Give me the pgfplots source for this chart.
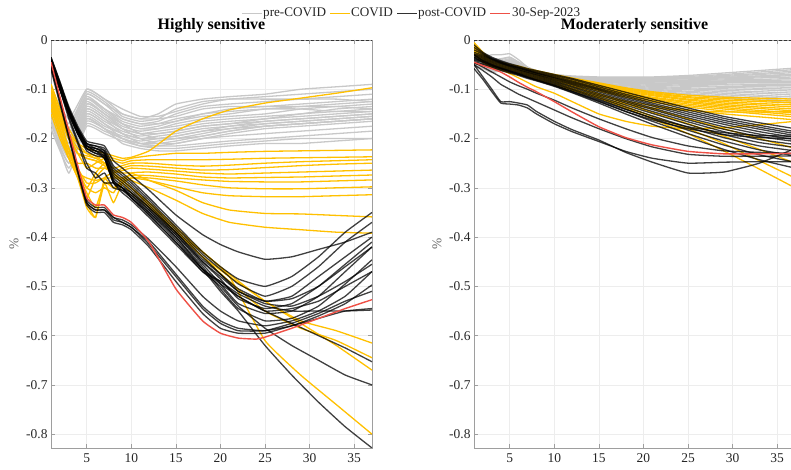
\documentclass[border=0pt]{standalone}
\usepackage{pgfplots}
\usepackage{pgfplotstable}
\pgfplotsset{compat=1.18}
\usepackage{fontspec}
\setmainfont{Liberation Serif}

\definecolor{preg}{RGB}{200,200,200}
\definecolor{covy}{RGB}{255,192,0}
\definecolor{redl}{RGB}{238,80,70}
\definecolor{postk}{RGB}{50,50,50}

% ---------------- LEFT PANEL: Highly sensitive ----------------
\pgfplotstableread{
id c1 c2 c3 c4 c5 c6 c7 c8 c9 c10 c11 c12 c13 c14
x 1 3 5 7 9 11 13 15 18 21 25 29 33 37
g1 -.10 -.16 -.10 -.12 -.15 -.16 -.15 -.13 -.12 -.115 -.11 -.10 -.095 -.09
g2 -.11 -.17 -.105 -.125 -.155 -.165 -.16 -.14 -.125 -.12 -.115 -.11 -.105 -.10
g3 -.12 -.18 -.11 -.13 -.16 -.17 -.165 -.15 -.135 -.13 -.125 -.12 -.115 -.11
g4 -.12 -.19 -.115 -.14 -.165 -.175 -.17 -.16 -.15 -.14 -.135 -.13 -.125 -.12
g5 -.13 -.20 -.12 -.145 -.17 -.18 -.175 -.165 -.155 -.15 -.14 -.135 -.13 -.125
g6 -.13 -.20 -.125 -.15 -.17 -.18 -.18 -.17 -.16 -.155 -.15 -.14 -.135 -.13
g7 -.14 -.21 -.13 -.15 -.175 -.185 -.18 -.175 -.165 -.16 -.155 -.15 -.14 -.135
g8 -.14 -.22 -.135 -.155 -.18 -.19 -.185 -.18 -.17 -.165 -.16 -.15 -.145 -.14
g9 -.15 -.22 -.14 -.16 -.18 -.19 -.19 -.185 -.175 -.17 -.16 -.155 -.15 -.145
g10 -.15 -.23 -.145 -.165 -.185 -.195 -.19 -.185 -.175 -.17 -.165 -.16 -.155 -.15
g11 -.16 -.23 -.15 -.17 -.19 -.20 -.195 -.19 -.18 -.175 -.165 -.16 -.155 -.15
g12 -.16 -.24 -.155 -.175 -.19 -.20 -.20 -.195 -.185 -.175 -.17 -.165 -.16 -.155
g13 -.17 -.24 -.16 -.18 -.195 -.205 -.20 -.195 -.185 -.18 -.17 -.165 -.16 -.155
g14 -.17 -.25 -.165 -.18 -.20 -.21 -.205 -.20 -.19 -.18 -.175 -.17 -.165 -.16
g15 -.18 -.25 -.17 -.185 -.20 -.21 -.21 -.205 -.195 -.185 -.175 -.17 -.165 -.16
g16 -.18 -.26 -.175 -.19 -.205 -.215 -.215 -.21 -.20 -.19 -.18 -.175 -.17 -.165
g17 -.12 -.21 -.12 -.14 -.17 -.19 -.20 -.20 -.195 -.185 -.175 -.17 -.165 -.16
g18 -.13 -.22 -.13 -.15 -.18 -.20 -.21 -.21 -.20 -.195 -.19 -.185 -.18 -.175
g19 -.14 -.23 -.14 -.16 -.19 -.21 -.215 -.215 -.21 -.205 -.20 -.195 -.19 -.185
g20 -.15 -.24 -.15 -.17 -.20 -.215 -.22 -.22 -.215 -.21 -.205 -.20 -.20 -.20
g21 -.16 -.27 -.16 -.18 -.21 -.22 -.225 -.225 -.22 -.215 -.21 -.21 -.205 -.20
g22 -.11 -.18 -.10 -.12 -.14 -.155 -.155 -.145 -.13 -.12 -.12 -.12 -.12 -.125
g23 -.12 -.19 -.11 -.13 -.15 -.16 -.16 -.155 -.14 -.135 -.135 -.135 -.135 -.14
g24 -.13 -.20 -.12 -.14 -.16 -.17 -.17 -.165 -.15 -.145 -.14 -.14 -.145 -.145
}\LGraw
\pgfplotstabletranspose[colnames from=id]{\LG}{\LGraw}

\pgfplotstableread{
id c1 c2 c3 c4 c5 c6 c7 c8 c9 c10 c11 c12 c13 c14 c15 c16 c17 c18
x 1 2 3 4 5 6 7 8 9 10 12 15 18 21 25 29 33 37
y1 -.10 -.15 -.19 -.21 -.22 -.225 -.23 -.235 -.24 -.238 -.225 -.185 -.16 -.142 -.128 -.118 -.108 -.097
y2 -.09 -.14 -.18 -.21 -.23 -.24 -.235 -.24 -.245 -.24 -.235 -.23 -.23 -.228 -.226 -.225 -.224 -.223
y3 -.11 -.16 -.20 -.23 -.26 -.25 -.24 -.245 -.25 -.245 -.243 -.243 -.243 -.242 -.240 -.239 -.238 -.237
y4 -.12 -.17 -.22 -.26 -.30 -.27 -.25 -.26 -.255 -.25 -.25 -.254 -.256 -.254 -.250 -.247 -.245 -.243
y5 -.13 -.18 -.23 -.27 -.32 -.28 -.26 -.27 -.26 -.255 -.256 -.26 -.264 -.263 -.259 -.255 -.252 -.250
y6 -.14 -.19 -.24 -.28 -.33 -.36 -.28 -.27 -.265 -.26 -.262 -.266 -.27 -.272 -.27 -.268 -.266 -.264
y7 -.10 -.16 -.22 -.27 -.31 -.34 -.29 -.33 -.29 -.27 -.268 -.272 -.278 -.28 -.279 -.278 -.276 -.274
y8 -.12 -.18 -.23 -.27 -.30 -.31 -.30 -.31 -.28 -.275 -.275 -.28 -.284 -.287 -.288 -.288 -.286 -.284
y9 -.13 -.19 -.24 -.28 -.34 -.36 -.29 -.30 -.29 -.28 -.28 -.286 -.294 -.30 -.302 -.302 -.30 -.298
y10 -.11 -.17 -.22 -.26 -.29 -.29 -.28 -.30 -.29 -.28 -.285 -.298 -.31 -.316 -.318 -.318 -.316 -.314
y11 -.14 -.19 -.23 -.25 -.25 -.26 -.26 -.265 -.27 -.27 -.285 -.305 -.33 -.345 -.352 -.353 -.356 -.359
y12 -.15 -.20 -.24 -.27 -.28 -.285 -.28 -.28 -.28 -.285 -.30 -.325 -.352 -.37 -.38 -.385 -.39 -.392
y13 -.09 -.14 -.19 -.23 -.24 -.245 -.25 -.27 -.285 -.30 -.33 -.38 -.43 -.475 -.53 -.57 -.59 -.615
y14 -.10 -.15 -.20 -.23 -.235 -.24 -.25 -.27 -.285 -.30 -.335 -.385 -.44 -.49 -.55 -.585 -.61 -.645
y15 -.11 -.16 -.20 -.23 -.24 -.245 -.255 -.275 -.29 -.31 -.34 -.39 -.44 -.48 -.53 -.575 -.62 -.67
y16 -.10 -.15 -.19 -.22 -.23 -.235 -.25 -.27 -.285 -.30 -.335 -.39 -.43 -.48 -.61 -.68 -.74 -.80
}\LYraw
\pgfplotstabletranspose[colnames from=id]{\LY}{\LYraw}

\pgfplotstableread{
id c1 c2 c3 c4 c5 c6 c7 c8 c9 c10 c11 c12 c13 c14 c15 c16 c17 c18 c19 c20
x 1 2 3 4 5 6 7 8 9 10 12 15 18 20 22 25 28 31 34 37
b1 -.035 -.085 -.135 -.175 -.205 -.21 -.215 -.245 -.26 -.275 -.305 -.355 -.395 -.415 -.43 -.445 -.44 -.425 -.41 -.39
b2 -.04 -.09 -.14 -.18 -.21 -.215 -.22 -.255 -.27 -.285 -.32 -.375 -.43 -.46 -.485 -.50 -.48 -.44 -.39 -.35
b3 -.045 -.095 -.145 -.185 -.215 -.22 -.225 -.26 -.275 -.29 -.325 -.38 -.435 -.465 -.495 -.52 -.50 -.46 -.41 -.37
b4 -.05 -.10 -.15 -.19 -.22 -.225 -.23 -.265 -.28 -.295 -.33 -.385 -.44 -.475 -.51 -.53 -.52 -.48 -.44 -.40
b5 -.04 -.09 -.14 -.18 -.21 -.215 -.225 -.27 -.285 -.30 -.335 -.39 -.45 -.485 -.525 -.545 -.535 -.50 -.455 -.41
b6 -.045 -.095 -.145 -.185 -.215 -.22 -.23 -.275 -.29 -.305 -.34 -.395 -.455 -.495 -.535 -.555 -.55 -.52 -.47 -.42
b7 -.05 -.10 -.15 -.19 -.22 -.23 -.235 -.28 -.295 -.31 -.345 -.40 -.46 -.505 -.545 -.57 -.565 -.54 -.495 -.446
b8 -.05 -.12 -.19 -.26 -.325 -.34 -.34 -.36 -.365 -.375 -.405 -.46 -.52 -.55 -.57 -.58 -.57 -.55 -.52 -.47
b9 -.055 -.125 -.195 -.265 -.33 -.345 -.345 -.365 -.37 -.38 -.41 -.475 -.54 -.57 -.585 -.59 -.58 -.56 -.535 -.497
b10 -.06 -.13 -.20 -.27 -.335 -.35 -.35 -.37 -.375 -.385 -.42 -.49 -.555 -.585 -.595 -.595 -.58 -.565 -.55 -.545
b11 -.04 -.09 -.145 -.185 -.215 -.225 -.24 -.29 -.30 -.32 -.355 -.41 -.47 -.49 -.515 -.54 -.55 -.55 -.55 -.548
b12 -.035 -.085 -.14 -.18 -.21 -.22 -.23 -.285 -.30 -.315 -.35 -.405 -.465 -.495 -.52 -.55 -.545 -.53 -.50 -.47
b13 -.045 -.095 -.145 -.19 -.22 -.23 -.24 -.29 -.305 -.32 -.355 -.41 -.465 -.49 -.52 -.55 -.575 -.60 -.625 -.653
b14 -.05 -.10 -.15 -.19 -.225 -.235 -.24 -.29 -.31 -.325 -.36 -.415 -.47 -.50 -.54 -.585 -.62 -.65 -.68 -.70
b15 -.04 -.09 -.14 -.185 -.215 -.225 -.235 -.285 -.30 -.32 -.35 -.40 -.465 -.51 -.55 -.62 -.68 -.735 -.785 -.828
b16 -.05 -.12 -.19 -.26 -.33 -.345 -.345 -.36 -.37 -.38 -.415 -.48 -.545 -.575 -.59 -.59 -.575 -.555 -.53 -.51
b17 -.04 -.10 -.16 -.21 -.26 -.27 -.29 -.29 -.30 -.31 -.34 -.39 -.445 -.475 -.505 -.53 -.525 -.50 -.46 -.42
b18 -.045 -.10 -.155 -.205 -.25 -.28 -.27 -.30 -.305 -.315 -.345 -.395 -.45 -.48 -.51 -.535 -.54 -.52 -.49 -.455
}\LBraw
\pgfplotstabletranspose[colnames from=id]{\LB}{\LBraw}

% ---------------- RIGHT PANEL: Moderaterly sensitive ----------------
\pgfplotstableread{
id c1 c2 c3 c4 c5 c6 c7 c8 c9 c10 c11 c12 c13 c14 c15 c16 c17
x 1 2 3 4 5 6 7 8 10 12 15 18 21 25 29 33 37
g1 -.030 -.040 -.045 -.040 -.035 -.045 -.055 -.062 -.070 -.073 -.075 -.075 -.075 -.072 -.067 -.062 -.057
g2 -.032 -.042 -.047 -.043 -.038 -.047 -.056 -.063 -.070 -.074 -.076 -.076 -.076 -.074 -.070 -.065 -.060
g3 -.034 -.043 -.048 -.045 -.040 -.048 -.057 -.064 -.071 -.075 -.077 -.077 -.077 -.076 -.072 -.068 -.063
g4 -.036 -.045 -.050 -.046 -.042 -.050 -.058 -.065 -.072 -.076 -.078 -.078 -.078 -.077 -.074 -.070 -.066
g5 -.038 -.046 -.051 -.048 -.044 -.051 -.059 -.066 -.073 -.077 -.079 -.079 -.079 -.078 -.076 -.073 -.069
g6 -.040 -.048 -.052 -.049 -.045 -.052 -.060 -.066 -.073 -.077 -.080 -.080 -.080 -.079 -.077 -.075 -.072
g7 -.042 -.049 -.053 -.050 -.046 -.053 -.060 -.067 -.074 -.078 -.081 -.081 -.081 -.081 -.079 -.077 -.075
g8 -.044 -.050 -.054 -.051 -.047 -.054 -.061 -.067 -.074 -.078 -.081 -.082 -.082 -.082 -.081 -.080 -.078
g9 -.046 -.051 -.055 -.052 -.048 -.055 -.062 -.068 -.075 -.079 -.082 -.083 -.083 -.083 -.083 -.082 -.081
g10 -.048 -.052 -.056 -.053 -.049 -.056 -.062 -.068 -.075 -.079 -.082 -.083 -.084 -.084 -.084 -.084 -.084
g11 -.030 -.045 -.055 -.050 -.045 -.054 -.062 -.069 -.076 -.080 -.083 -.084 -.085 -.086 -.086 -.087 -.087
g12 -.032 -.046 -.056 -.052 -.047 -.056 -.063 -.070 -.077 -.081 -.084 -.086 -.087 -.088 -.089 -.090 -.090
g13 -.035 -.047 -.057 -.053 -.048 -.057 -.064 -.071 -.078 -.082 -.085 -.087 -.088 -.090 -.091 -.092 -.093
g14 -.037 -.048 -.058 -.054 -.050 -.058 -.065 -.072 -.079 -.083 -.086 -.088 -.090 -.092 -.094 -.095 -.096
g15 -.040 -.050 -.059 -.055 -.051 -.059 -.066 -.073 -.080 -.084 -.088 -.090 -.092 -.094 -.096 -.098 -.100
g16 -.042 -.051 -.060 -.056 -.052 -.060 -.067 -.074 -.081 -.085 -.089 -.092 -.094 -.097 -.099 -.101 -.104
g17 -.044 -.052 -.061 -.057 -.053 -.061 -.068 -.075 -.082 -.086 -.090 -.093 -.096 -.099 -.102 -.105 -.108
g18 -.046 -.053 -.062 -.058 -.054 -.062 -.069 -.076 -.083 -.088 -.092 -.095 -.098 -.101 -.105 -.108 -.112
g19 -.048 -.054 -.063 -.059 -.055 -.063 -.070 -.077 -.084 -.089 -.093 -.097 -.100 -.104 -.108 -.112 -.116
g20 -.050 -.056 -.064 -.060 -.056 -.064 -.071 -.078 -.085 -.090 -.095 -.099 -.102 -.106 -.111 -.115 -.120
g21 -.052 -.057 -.065 -.061 -.057 -.065 -.072 -.079 -.086 -.091 -.096 -.100 -.104 -.109 -.114 -.119 -.124
g22 -.054 -.058 -.066 -.062 -.058 -.066 -.073 -.080 -.087 -.092 -.097 -.102 -.106 -.111 -.117 -.122 -.128
g23 -.040 -.035 -.030 -.030 -.028 -.040 -.055 -.063 -.071 -.075 -.077 -.078 -.079 -.078 -.076 -.073 -.070
g24 -.045 -.045 -.040 -.038 -.035 -.045 -.058 -.066 -.074 -.078 -.081 -.083 -.084 -.085 -.085 -.085 -.085
}\RGraw
\pgfplotstabletranspose[colnames from=id]{\RG}{\RGraw}

\pgfplotstableread{
id c1 c2 c3 c4 c5 c6 c7 c8 c9 c10 c11 c12 c13 c14 c15 c16 c17
x 1 2 3 4 5 6 7 8 10 12 15 18 21 25 29 33 37
y1 -.005 -.025 -.040 -.045 -.050 -.053 -.058 -.062 -.070 -.077 -.087 -.097 -.105 -.112 -.116 -.118 -.120
y2 -.010 -.028 -.042 -.047 -.052 -.055 -.060 -.064 -.072 -.079 -.089 -.099 -.107 -.115 -.119 -.122 -.124
y3 -.012 -.030 -.043 -.048 -.053 -.056 -.061 -.065 -.073 -.080 -.091 -.101 -.109 -.117 -.122 -.125 -.128
y4 -.015 -.032 -.044 -.049 -.054 -.057 -.062 -.066 -.074 -.082 -.093 -.103 -.111 -.120 -.125 -.129 -.132
y5 -.018 -.034 -.045 -.050 -.055 -.058 -.063 -.067 -.075 -.083 -.094 -.105 -.113 -.122 -.128 -.132 -.136
y6 -.020 -.035 -.046 -.051 -.056 -.060 -.064 -.068 -.076 -.084 -.096 -.107 -.116 -.125 -.131 -.136 -.140
y7 -.022 -.037 -.047 -.052 -.057 -.061 -.065 -.069 -.077 -.086 -.098 -.109 -.118 -.127 -.134 -.139 -.144
y8 -.025 -.038 -.048 -.053 -.058 -.062 -.066 -.070 -.078 -.087 -.100 -.111 -.120 -.130 -.137 -.143 -.148
y9 -.027 -.040 -.050 -.055 -.059 -.063 -.067 -.071 -.080 -.089 -.102 -.113 -.123 -.133 -.140 -.146 -.152
y10 -.030 -.042 -.052 -.056 -.060 -.064 -.068 -.073 -.082 -.091 -.104 -.116 -.126 -.136 -.144 -.150 -.156
y11 -.020 -.036 -.048 -.054 -.060 -.066 -.072 -.078 -.090 -.100 -.113 -.124 -.133 -.142 -.150 -.156 -.162
y12 -.025 -.040 -.052 -.060 -.068 -.077 -.086 -.095 -.108 -.125 -.150 -.165 -.175 -.180 -.178 -.172 -.165
y13 -.015 -.030 -.045 -.050 -.056 -.061 -.067 -.072 -.082 -.093 -.109 -.125 -.140 -.160 -.180 -.200 -.220
y14 -.010 -.028 -.042 -.048 -.054 -.060 -.066 -.071 -.082 -.094 -.111 -.129 -.147 -.170 -.195 -.222 -.250
y15 -.020 -.034 -.046 -.052 -.058 -.064 -.070 -.075 -.086 -.098 -.116 -.135 -.155 -.180 -.210 -.245 -.280
y16 -.012 -.030 -.044 -.050 -.056 -.062 -.068 -.074 -.086 -.099 -.118 -.138 -.160 -.190 -.225 -.262 -.300
y17 -.030 -.045 -.055 -.060 -.065 -.070 -.075 -.080 -.092 -.102 -.118 -.130 -.138 -.143 -.146 -.146 -.145
}\RYraw
\pgfplotstabletranspose[colnames from=id]{\RY}{\RYraw}

\pgfplotstableread{
id c1 c2 c3 c4 c5 c6 c7 c8 c9 c10 c11 c12 c13 c14 c15 c16 c17
x 1 2 3 4 5 6 7 8 10 12 15 18 21 25 29 33 37
b1 -.010 -.025 -.035 -.042 -.048 -.053 -.058 -.062 -.070 -.078 -.092 -.106 -.120 -.138 -.155 -.168 -.180
b2 -.015 -.027 -.037 -.044 -.050 -.055 -.060 -.064 -.072 -.080 -.095 -.110 -.124 -.142 -.159 -.173 -.186
b3 -.020 -.029 -.038 -.045 -.051 -.056 -.061 -.066 -.074 -.083 -.098 -.113 -.128 -.146 -.163 -.177 -.190
b4 -.025 -.031 -.039 -.046 -.052 -.057 -.062 -.067 -.076 -.085 -.100 -.116 -.131 -.150 -.167 -.181 -.194
b5 -.028 -.033 -.040 -.047 -.053 -.058 -.063 -.068 -.077 -.087 -.102 -.119 -.134 -.154 -.171 -.186 -.198
b6 -.030 -.035 -.042 -.048 -.054 -.060 -.065 -.070 -.079 -.089 -.105 -.122 -.138 -.158 -.176 -.191 -.202
b7 -.032 -.037 -.044 -.050 -.056 -.061 -.066 -.071 -.081 -.091 -.108 -.125 -.141 -.162 -.181 -.196 -.206
b8 -.035 -.039 -.046 -.052 -.058 -.063 -.068 -.073 -.083 -.094 -.111 -.128 -.145 -.166 -.186 -.202 -.212
b9 -.038 -.041 -.048 -.054 -.060 -.065 -.070 -.075 -.085 -.096 -.114 -.132 -.149 -.171 -.192 -.208 -.218
b10 -.040 -.043 -.050 -.056 -.062 -.067 -.072 -.077 -.087 -.099 -.117 -.136 -.154 -.177 -.198 -.215 -.225
b11 -.042 -.045 -.052 -.058 -.063 -.068 -.074 -.079 -.089 -.101 -.120 -.140 -.159 -.183 -.205 -.223 -.235
b12 -.045 -.048 -.054 -.060 -.065 -.070 -.076 -.081 -.091 -.104 -.124 -.145 -.165 -.190 -.213 -.233 -.248
b13 -.048 -.050 -.056 -.062 -.067 -.072 -.078 -.083 -.094 -.107 -.128 -.150 -.171 -.197 -.222 -.243 -.260
b14 -.035 -.045 -.052 -.058 -.064 -.070 -.076 -.082 -.093 -.106 -.125 -.145 -.162 -.180 -.192 -.198 -.200
b15 -.030 -.042 -.050 -.057 -.063 -.069 -.075 -.081 -.092 -.104 -.122 -.141 -.158 -.176 -.188 -.194 -.195
b16 -.050 -.075 -.100 -.125 -.125 -.128 -.132 -.145 -.165 -.182 -.203 -.228 -.248 -.270 -.268 -.250 -.220
b17 -.058 -.080 -.105 -.128 -.130 -.132 -.138 -.150 -.170 -.186 -.206 -.226 -.240 -.250 -.248 -.247 -.247
b18 -.050 -.062 -.075 -.090 -.100 -.110 -.118 -.126 -.142 -.158 -.180 -.200 -.217 -.232 -.236 -.236 -.235
b19 -.045 -.055 -.065 -.075 -.085 -.093 -.100 -.108 -.122 -.138 -.160 -.180 -.198 -.215 -.225 -.228 -.230
}\RBraw
\pgfplotstabletranspose[colnames from=id]{\RB}{\RBraw}

\pgfplotsset{
  panel/.style={
    width=321bp, height=408bp, scale only axis,
    xmin=1, xmax=37, ymin=-0.828, ymax=0,
    xtick={5,10,15,20,25,30,35},
    ytick={-0.8,-0.7,-0.6,-0.5,-0.4,-0.3,-0.2,-0.1,0},
    grid=major, major grid style={draw=black!7, line width=0.5bp},
    axis line style={draw=black!38, line width=0.7bp},
    tick style={draw=black!38, line width=0.5bp}, major tick length=4bp, tick align=inside,
    ticklabel style={font=\fontsize{13.5}{15}\selectfont, text=black!85},
    xticklabel style={yshift=-2bp},
    /pgf/number format/assume math mode=true,
    yticklabel style={/pgf/number format/fixed, /pgf/number format/precision=1},
    scaled y ticks=false,
    ylabel={\%},
    ylabel style={at={(axis description cs:-0.115,0.5)}, anchor=center,
      font=\fontsize{13.5}{15}\selectfont, text=black!60},
    title style={at={(axis description cs:0.5,1)}, anchor=base, yshift=5bp,
      font=\bfseries\fontsize{16}{18}\selectfont},
  },
  preline/.style={draw=preg, line width=1.3bp, smooth, tension=0.25, forget plot},
  covline/.style={draw=covy, line width=1.3bp, smooth, tension=0.25, forget plot},
  postline/.style={draw=black, draw opacity=0.75, line width=1.3bp, smooth, tension=0.25, forget plot},
  redline/.style={draw=redl, line width=1.4bp, smooth, tension=0.25, forget plot},
}

\begin{document}
\begin{tikzpicture}
\path[use as bounding box] (0bp,0bp) rectangle (791bp,470bp);

% ---------- left axis ----------
\begin{axis}[panel, at={(51bp,22bp)}, anchor=south west,
  title={Highly sensitive}]
\pgfplotsinvokeforeach{1,...,24}{\addplot[preline] table[x=x, y=g#1]{\LG};}
\pgfplotsinvokeforeach{1,...,16}{\addplot[covline] table[x=x, y=y#1]{\LY};}
\pgfplotsinvokeforeach{1,...,18}{\addplot[postline] table[x=x, y=b#1]{\LB};}
\addplot[redline] coordinates {(1,-.045)(2,-.115)(3,-.185)(4,-.255)(5,-.32)(6,-.335)(7,-.335)(8,-.355)(9,-.36)(10,-.37)(12,-.41)(15,-.505)(18,-.57)(20,-.595)(22,-.605)(24,-.607)(25,-.603)(28,-.585)(31,-.565)(34,-.545)(37,-.527)};
\addplot[black!80, line width=0.7bp, dash pattern=on 3bp off 2bp, forget plot] coordinates {(1,0) (37,0)};
\end{axis}

% ---------- right axis ----------
\begin{axis}[panel, at={(474bp,22bp)}, anchor=south west,
  title={Moderaterly sensitive}]
\pgfplotsinvokeforeach{1,...,24}{\addplot[preline] table[x=x, y=g#1]{\RG};}
\pgfplotsinvokeforeach{1,...,17}{\addplot[covline] table[x=x, y=y#1]{\RY};}
\pgfplotsinvokeforeach{1,...,19}{\addplot[postline] table[x=x, y=b#1]{\RB};}
\addplot[redline] coordinates {(1,-.045)(2,-.052)(3,-.058)(4,-.065)(5,-.075)(6,-.086)(7,-.096)(8,-.105)(10,-.125)(12,-.146)(15,-.176)(18,-.198)(21,-.213)(25,-.226)(29,-.231)(33,-.231)(37,-.230)};
\addplot[black!80, line width=0.7bp, dash pattern=on 3bp off 2bp, forget plot] coordinates {(1,0) (37,0)};
\end{axis}

% ---------- legend (one row above both panels) ----------
\begin{scope}[font=\fontsize{13.2}{15}\selectfont]
\draw[preg, line width=1.8bp] (242bp,456.5bp) -- (262bp,456.5bp);
\node[anchor=base west, inner sep=0pt, text=black!85] at (263bp,453.3bp) {pre-COVID};
\draw[covy, line width=1.8bp] (330bp,456.5bp) -- (350bp,456.5bp);
\node[anchor=base west, inner sep=0pt, text=black!85] at (351bp,453.3bp) {COVID};
\draw[postk, line width=1.8bp] (397bp,456.5bp) -- (417bp,456.5bp);
\node[anchor=base west, inner sep=0pt, text=black!85] at (418bp,453.3bp) {post-COVID};
\draw[redl, line width=1.8bp] (490bp,456.5bp) -- (510bp,456.5bp);
\node[anchor=base west, inner sep=0pt, text=black!85] at (512bp,453.3bp) {30-Sep-2023};
\end{scope}
\end{tikzpicture}
\end{document}
